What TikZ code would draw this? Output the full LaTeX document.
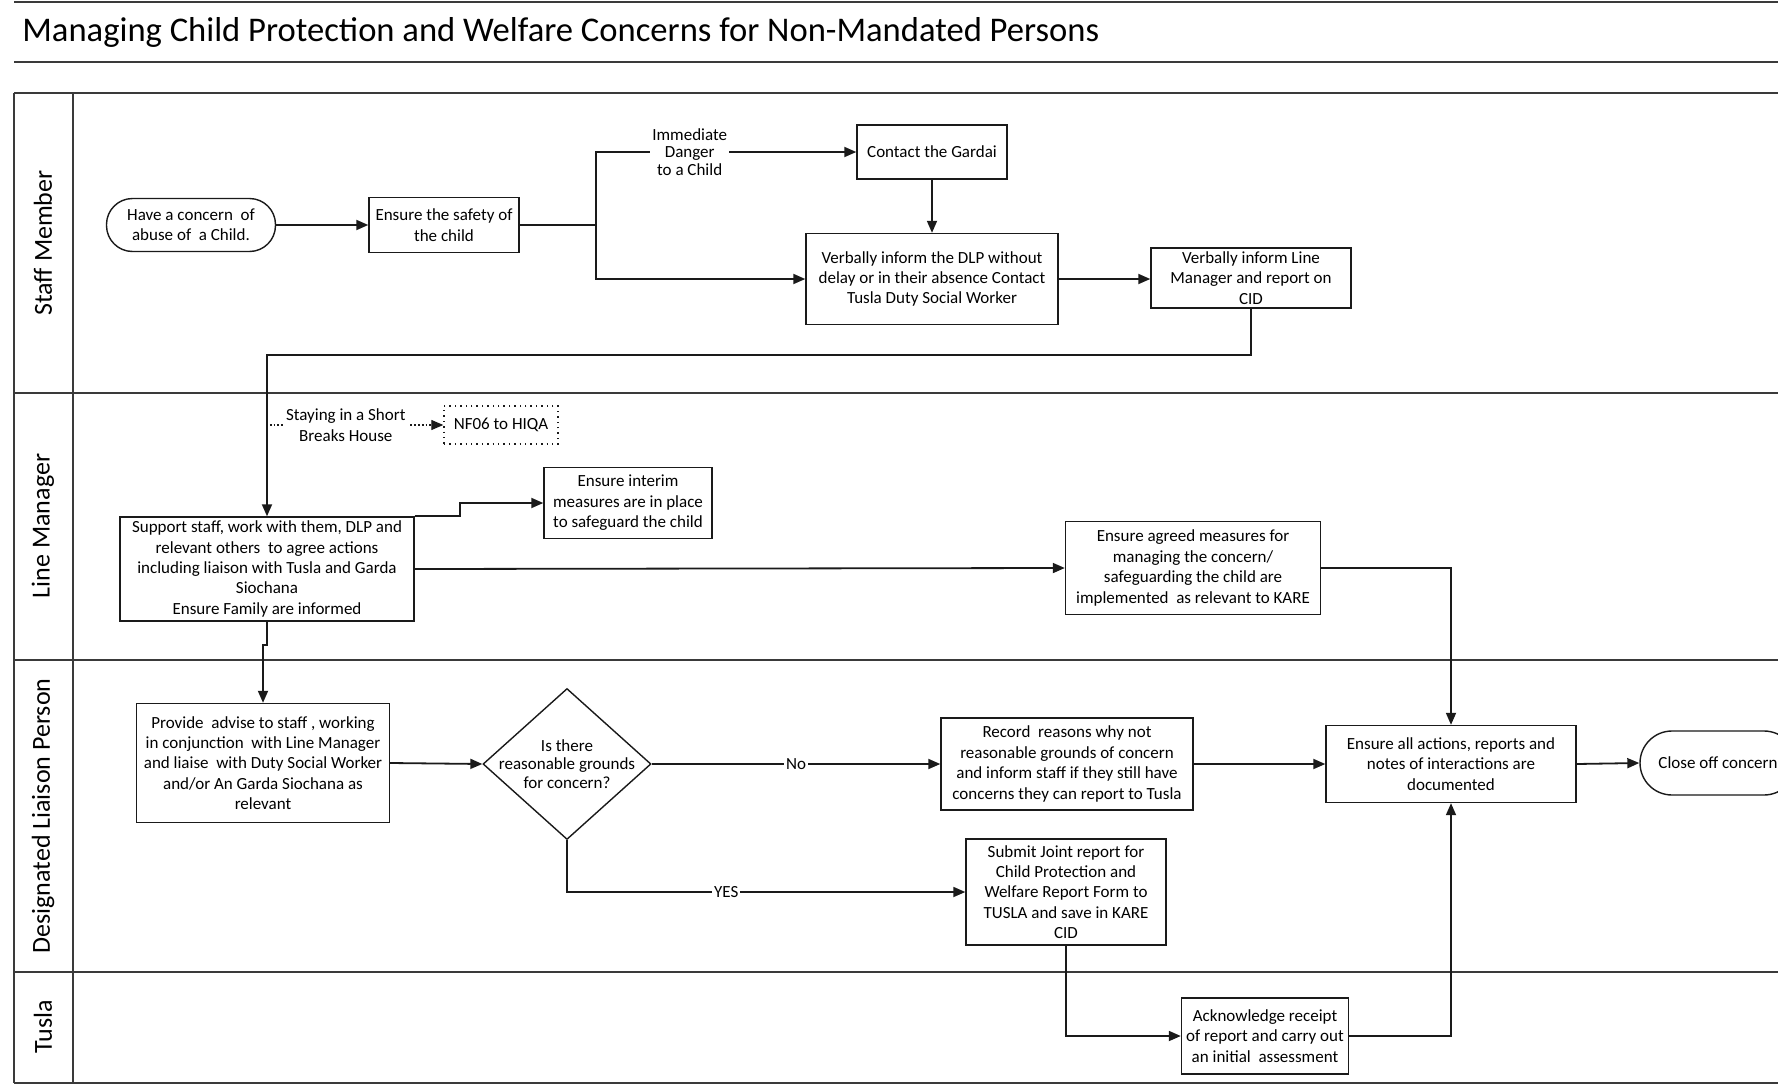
\documentclass[tikz,border=0pt]{standalone}
\usepackage{fontspec}
\setmainfont{Carlito}
\usetikzlibrary{arrows.meta,calc,positioning,shapes.geometric}
\definecolor{Ink}{HTML}{1A1A1A}
\definecolor{Rule}{HTML}{3A3A3A}
\begin{document}
\begin{tikzpicture}[x=.5pt,y=-.5pt,
    box/.style={draw=Ink,line width=.7pt,align=center,inner sep=1pt,font=\fontsize{8.5}{10.2}\selectfont},
    term/.style={box,rounded corners=13pt},
    choice/.style={draw=Ink,line width=.7pt,diamond,inner sep=0pt},
    flow/.style={draw=Ink,line width=.9pt,-{Triangle[length=6pt,width=5pt]}},
    lbl/.style={fill=white,inner sep=1pt,align=center,font=\fontsize{8.5}{8.8}\selectfont},
    lanelbl/.style={rotate=90,font=\fontsize{13}{15}\selectfont},
    lane/.style={draw=Rule,line width=1.1pt}]
  \path[use as bounding box,fill=white] (0,0) rectangle (1778,1092);
  % pool and lanes
  \foreach \y in {2,62,93,393,660,972,1083}{\draw[lane](14,\y)--(1778,\y);}
  \foreach \x in {14,73}{\draw[lane](\x,93)--(\x,1083);}
  \node[anchor=west,inner sep=0pt,font=\fontsize{17.3}{20}\selectfont] (title) at (22,32) {Managing Child Protection and Welfare Concerns for Non-Mandated Persons};
  \node[lanelbl] (lstaff) at (43,243) {Staff Member};
  \node[lanelbl] (lline) at (43,526) {Line Manager};
  \node[lanelbl] (ldlp) at (43,816) {Designated Liaison Person};
  \node[lanelbl] (ltusla) at (43,1027) {Tusla};

  % staff member
  \node[term,minimum width=84.5pt,minimum height=26.5pt] (start) at (191,225) {Have a concern \ of\\abuse of \ a Child.};
  \node[box,minimum width=75pt,minimum height=27.5pt] (safety) at (444,225) {Ensure the safety of\\the child};
  \coordinate (split) at (596,225);
  \node[box,minimum width=75pt,minimum height=27pt] (gardai) at (932,152) {Contact the Gardai};
  \node[box,minimum width=126pt,minimum height=45.5pt] (informdlp) at (932,279) {Verbally inform the DLP without\\delay or in their absence Contact\\Tusla Duty Social Worker};
  \node[box,minimum width=100pt,minimum height=30pt] (informlm) at (1251,278) {Verbally inform Line\\Manager and report on\\CID};
  \coordinate (back) at (1251,355);

  % line manager
  \node[box,dotted,minimum width=57pt,minimum height=19pt] (nf06) at (501,425) {NF06 to HIQA};
  \coordinate (breaks) at (266,425);
  \node[box,minimum width=147pt,minimum height=52pt] (support) at (267,569) {Support staff, work with them, DLP and\\relevant others \ to agree actions\\including liaison with Tusla and Garda\\Siochana\\Ensure Family are informed};
  \node[box,minimum width=84pt,minimum height=35.5pt] (interim) at (628,503) {Ensure interim\\measures are in place\\to safeguard the child};
  \node[box,minimum width=127.5pt,minimum height=46.5pt] (agreed) at (1193,568) {Ensure agreed measures for\\managing the concern/\\safeguarding the child are\\implemented \ as relevant to KARE};

  % designated liaison person
  \node[box,minimum width=126.5pt,minimum height=59.5pt] (advise) at (263,763) {Provide \ advise to staff , working\\in conjunction \ with Line Manager\\and liaise \ with Duty Social Worker\\and/or An Garda Siochana as\\relevant};
  \node[choice,minimum width=84pt,minimum height=75.5pt] (ask) at (567,764) {};
  \node[align=center,font=\fontsize{8.5}{9.2}\selectfont] (askt) at (ask) {Is there\\reasonable grounds\\for concern?};
  \node[box,minimum width=126pt,minimum height=46pt] (record) at (1067,764) {Record \ reasons why not\\reasonable grounds of concern\\and inform staff if they still have\\concerns they can report to Tusla};
  \node[box,minimum width=125pt,minimum height=38.5pt] (documented) at (1451,764) {Ensure all actions, reports and\\notes of interactions are\\documented};
  \node[term,rounded corners=16pt,minimum width=78pt,minimum height=32pt] (close) at (1718,763) {Close off concern};
  \node[box,minimum width=100pt,minimum height=53pt] (submit) at (1066,892) {Submit Joint report for\\Child Protection and\\Welfare Report Form to\\TUSLA and save in KARE\\CID};

  % tusla
  \node[box,minimum width=83.5pt,minimum height=38pt] (acknowledge) at (1265,1036) {Acknowledge receipt\\of report and carry out\\an initial \ assessment};

  % connectors
  \draw[flow] (start) -- (safety);
  \draw[draw=Ink,line width=.9pt] (safety.east) -- (split);
  \draw[flow] (split) |- node[lbl,pos=.68] {Immediate\\Danger\\to a Child} (gardai.west);
  \draw[flow] (split) |- (informdlp.west);
  \draw[flow] (gardai) -- (informdlp);
  \draw[flow] (informdlp.east) -- (informdlp.east -| informlm.west);
  \draw[flow] (informlm.south) -- (back) -| (support.north);
  \draw[flow,densely dotted,line width=.6pt] (breaks) -- node[lbl,pos=.45,font=\fontsize{8.5}{10.8}\selectfont] {Staying in a Short\\Breaks House} (nf06.west);
  \draw[flow] (support.north east) -- ++(45,0) |- (interim.west);
  \draw[flow] (support.east) -- (agreed.west);
  \draw[flow] (agreed.east) -| (documented.north);
  \draw[flow] (support.south) -- ++(0,23) -| (advise.north);
  \draw[flow] (advise.east) -- (ask.west);
  \draw[flow] (ask.east) -- node[lbl] {No} (record.west);
  \draw[flow] (ask.south) |- node[lbl,pos=.7] {YES} (submit.west);
  \draw[flow] (record.east) -- (documented.west);
  \draw[flow] (documented.east) -- (close.west);
  \draw[flow] (submit.south) |- (acknowledge.west);
  \draw[flow] (acknowledge.east) -| (documented.south);
\end{tikzpicture}
\end{document}
